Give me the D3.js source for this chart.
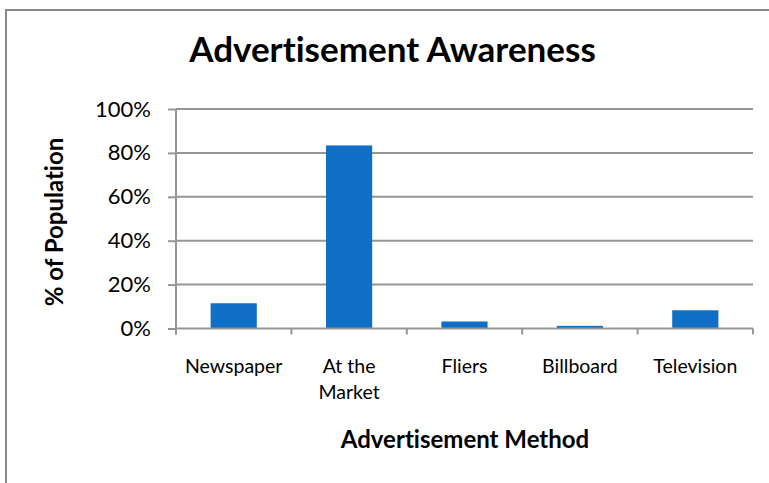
<!DOCTYPE html>
<html>
<head>
<meta charset="utf-8">
<script src="https://cdn.jsdelivr.net/npm/d3@7/dist/d3.min.js"></script>
<style>
  html, body { margin: 0; padding: 0; background: #fff; }
  svg { display: block; font-family: Lato, "Open Sans", sans-serif; font-variant-ligatures: none; }
</style>
</head>
<body>
<svg id="chart" width="769" height="483"></svg>
<script>
// Survey results: share of population aware of each advertisement method
const categories = ["Newspaper", "At the Market", "Fliers", "Billboard", "Television"];
const categoryLines = [["Newspaper"], ["At the", "Market"], ["Fliers"], ["Billboard"], ["Television"]];
const values = [0.115, 0.834, 0.032, 0.012, 0.083];
const yTicks = [0, 0.2, 0.4, 0.6, 0.8, 1.0];

const svg = d3.select("#chart");

// outer chart frame
svg.append("rect")
  .attr("x", 6).attr("y", 10)
  .attr("width", 780).attr("height", 500)
  .attr("fill", "#fff").attr("stroke", "#8a8a8a").attr("stroke-width", 2);

const plot = { left: 176, right: 753, top: 109, bottom: 328.5 };
const gridColor = "#969696";

const x = d3.scaleBand()
  .domain(categories)
  .range([plot.left, plot.right])
  .paddingInner(0.6)
  .paddingOuter(0.3);

const y = d3.scaleLinear()
  .domain([0, 1])
  .range([plot.bottom, plot.top]);

// horizontal gridlines
svg.append("g")
  .selectAll("line")
  .data(yTicks.slice(1))
  .join("line")
  .attr("x1", plot.left).attr("x2", plot.right)
  .attr("y1", d => y(d)).attr("y2", d => y(d))
  .attr("stroke", gridColor).attr("stroke-width", 2);

// bars
svg.append("g")
  .selectAll("rect")
  .data(values)
  .join("rect")
  .attr("x", (d, i) => x(categories[i]))
  .attr("width", x.bandwidth())
  .attr("y", d => y(d))
  .attr("height", d => y(0) - y(d))
  .attr("fill", "#0f6fc6");

// y axis
const yAxis = d3.axisLeft(y)
  .tickValues(yTicks)
  .tickFormat(d3.format(".0%"))
  .tickSize(8)
  .tickPadding(17);
const gy = svg.append("g")
  .attr("transform", `translate(${plot.left},0)`)
  .call(yAxis);
gy.select(".domain").attr("stroke", gridColor).attr("stroke-width", 2)
  .attr("d", `M0,${plot.bottom + 6}V${plot.top}`);
gy.selectAll(".tick line").attr("stroke", gridColor).attr("stroke-width", 2);
gy.selectAll(".tick text").attr("font-size", 22).attr("fill", "#000")
  .attr("font-family", "Lato, sans-serif");

// x axis with tick marks at category boundaries
const bounds = d3.range(categories.length + 1)
  .map(i => plot.left + i * (plot.right - plot.left) / categories.length);
svg.append("line")
  .attr("x1", plot.left).attr("x2", plot.right)
  .attr("y1", plot.bottom).attr("y2", plot.bottom)
  .attr("stroke", gridColor).attr("stroke-width", 2);
svg.append("g")
  .selectAll("line")
  .data(bounds)
  .join("line")
  .attr("x1", d => d).attr("x2", d => d)
  .attr("y1", plot.bottom).attr("y2", plot.bottom + 6)
  .attr("stroke", gridColor).attr("stroke-width", 2);

// category labels
const labels = svg.append("g")
  .selectAll("text")
  .data(categories)
  .join("text")
  .attr("text-anchor", "middle")
  .attr("font-size", 19.5)
  .attr("fill", "#000")
  .attr("transform", d => `translate(${x(d) + x.bandwidth() / 2},373)`);
labels.selectAll("tspan")
  .data((d, i) => categoryLines[i])
  .join("tspan")
  .attr("x", 0)
  .attr("dy", (d, i) => i === 0 ? 0 : 26)
  .text(d => d);

// title
svg.append("text")
  .attr("x", 392.5).attr("y", 62)
  .attr("text-anchor", "middle")
  .attr("font-size", 35).attr("font-weight", "bold")
  .text("Advertisement Awareness");

// axis titles
svg.append("text")
  .attr("x", 465).attr("y", 448)
  .attr("text-anchor", "middle")
  .attr("font-size", 24).attr("font-weight", "bold")
  .text("Advertisement Method");

svg.append("text")
  .attr("transform", "translate(63,222) rotate(-90)")
  .attr("text-anchor", "middle")
  .attr("font-size", 24).attr("font-weight", "bold")
  .text("% of Population");
</script>
</body>
</html>
